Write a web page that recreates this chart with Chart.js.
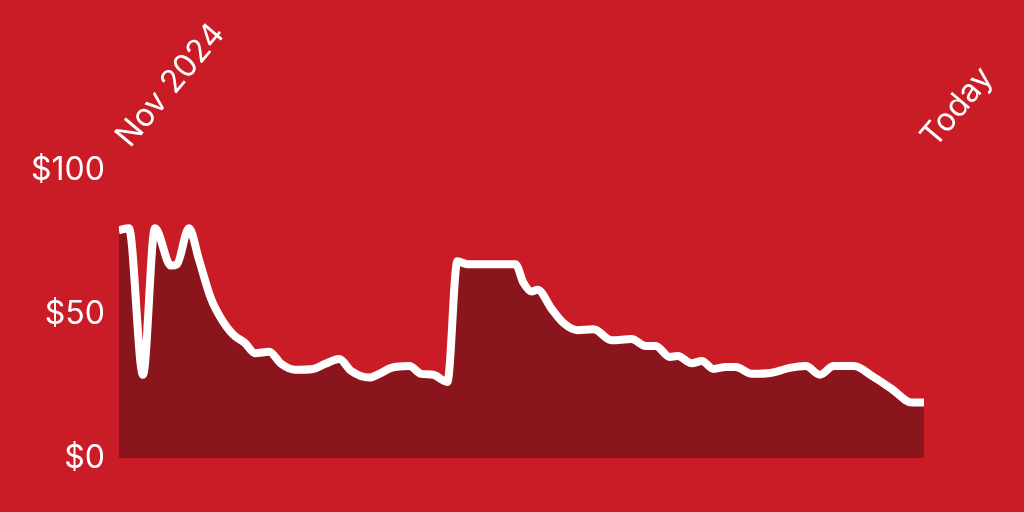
<!DOCTYPE html>
<html>
<head>
<meta charset="utf-8">
<script src="https://cdn.jsdelivr.net/npm/chart.js@4/dist/chart.umd.min.js"></script>
<style>
  html, body { margin: 0; padding: 0; background: #C91C26; }
  #wrap { width: 1024px; height: 512px; position: relative; }
</style>
</head>
<body>
<div id="wrap"><canvas id="c"></canvas></div>
<script>
// Day offsets since Nov 2024 and prices (USD)
const days = [0, 5, 12, 18, 26, 29, 35, 40, 46, 51, 57, 63, 68, 75, 81, 88, 97, 103, 110, 116, 125, 130, 136, 145, 151, 157, 162, 164, 169, 174, 198, 202, 206, 209, 216, 222, 229, 237, 246, 256, 263, 268, 275, 279, 286, 291, 297, 303, 308, 316, 326, 335, 343, 350, 357, 367, 376, 386, 396, 402];
const prices = [79.3, 80, 29, 80, 67, 67.5, 80, 69, 55.5, 48.6, 43, 40, 36.5, 37, 32.8, 30.7, 31, 32.8, 34.5, 30.3, 28, 29.3, 31.4, 32, 29.3, 29, 27, 26.5, 68.5, 67.5, 67.5, 61, 58, 58.6, 52, 47, 44.5, 44.8, 41, 41.4, 39, 39, 35.2, 35.5, 33, 33.8, 31, 31.7, 31.7, 29.3, 29.7, 31.4, 32, 29, 32, 32, 28.6, 24, 19.3, 19.3];
const xTickValues = [0, 402];
const xTickLabels = ['Nov 2024', 'Today'];
const yTickValues = [0, 50, 100];

const FONT = { family: 'Inter', size: 32, weight: 400 };

new Chart(document.getElementById('c'), {
  type: 'line',
  data: {
    datasets: [{
      data: days.map((d, i) => ({ x: d, y: prices[i] })),
      borderColor: '#FFFFFF',
      borderWidth: 8,
      backgroundColor: '#8B151C',
      fill: 'origin',
      pointRadius: 0,
      cubicInterpolationMode: 'monotone',
      borderJoinStyle: 'round'
    }]
  },
  options: {
    responsive: true,
    maintainAspectRatio: false,
    animation: false,
    layout: { padding: { left: 25, right: 100, top: 8, bottom: 54 } },
    plugins: { legend: { display: false }, tooltip: { enabled: false } },
    scales: {
      x: {
        type: 'linear',
        position: 'top',
        min: 0, max: 402,
        grid: { display: false },
        border: { display: false },
        afterBuildTicks: (s) => { s.ticks = xTickValues.map(v => ({ value: v })); },
        ticks: {
          color: '#FFFFFF',
          font: FONT,
          minRotation: 50, maxRotation: 50,
          autoSkip: false,
          padding: 8,
          labelOffset: 33,
          callback: (v) => xTickLabels[xTickValues.indexOf(v)] ?? ''
        }
      },
      y: {
        min: 0, max: 100,
        grid: { display: false },
        border: { display: false },
        afterBuildTicks: (s) => { s.ticks = yTickValues.map(v => ({ value: v })); },
        ticks: {
          color: '#FFFFFF',
          font: FONT,
          padding: 6,
          callback: (v) => '$' + v
        }
      }
    }
  }
});
</script>
</body>
</html>
